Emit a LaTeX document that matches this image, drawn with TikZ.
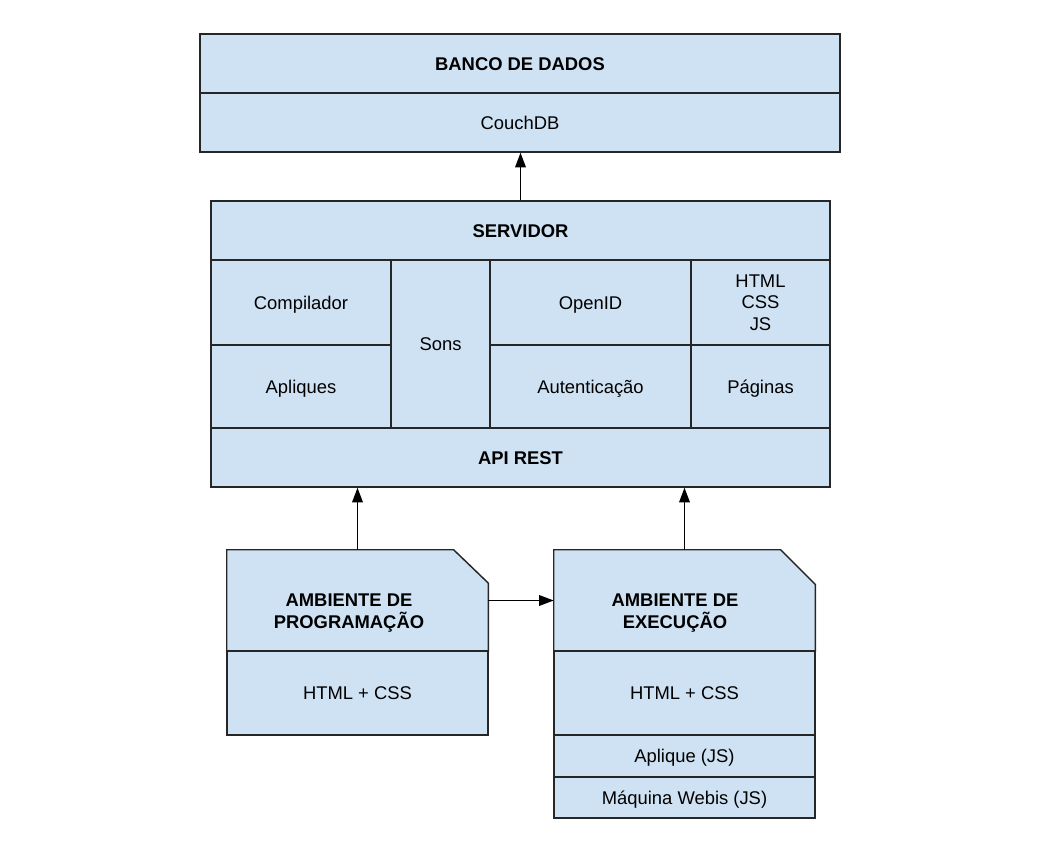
\documentclass[tikz,border=0pt]{standalone}
\usepackage{fontspec}
\setmainfont{Liberation Sans}
\usetikzlibrary{arrows.meta}
\definecolor{boxblue}{HTML}{CFE2F3}

\begin{document}
\begin{tikzpicture}[x=0.75pt,y=-0.75pt,
      box/.style={rectangle,draw=black!85,fill=boxblue,line width=1.1pt,
        inner sep=0pt,align=center},
      cell/.style={box,text height=10pt,text depth=-1.5pt},
      seta/.style={-{Triangle[length=11pt,width=8pt]},line width=1.1pt}]
      \tikzstyle{every node}=[font=\fontsize{13.8}{16}\selectfont]
      \useasboundingbox (0,0) rectangle (1042,855);
      % banco de dados
      \node[cell,minimum width=480pt,minimum height=44.25pt] (banco)
      at (520,63.5) {\textbf{BANCO DE DADOS}};
      \node[cell,minimum width=480pt,minimum height=44.25pt] (couch)
      at (520,122.5) {CouchDB};
      % servidor
      \node[cell,minimum width=464.25pt,minimum height=44.25pt] (serv)
      at (520.5,230.5) {\textbf{SERVIDOR}};
      \node[cell,minimum width=135pt,minimum height=63.75pt] (comp)
      at (301,302.5) {Compilador};
      \node[cell,minimum width=135pt,minimum height=62.25pt] (apl)
      at (301,386.5) {Apliques};
      \node[cell,minimum width=74.25pt,minimum height=126pt] (sons)
      at (440.5,344) {Sons};
      \node[cell,minimum width=150.75pt,minimum height=63.75pt] (openid)
      at (590.5,302.5) {OpenID};
      \node[cell,minimum width=150.75pt,minimum height=62.25pt] (aut)
      at (590.5,386.5) {Autenticação};
      \node[box,text depth=0pt,minimum width=104.25pt,minimum height=63.75pt]
      (web) at (760.5,302.5) {HTML\\CSS\\JS};
      \node[cell,minimum width=104.25pt,minimum height=62.25pt] (pag)
      at (760.5,386.5) {Páginas};
      \node[cell,minimum width=464.25pt,minimum height=44.25pt] (api)
      at (520.5,457.5) {\textbf{API REST}};
      % ambiente de programacao
      \node[minimum width=195.75pt,minimum height=75.75pt,inner sep=0pt]
      (ptop) at (357.5,600.5) {};
      \draw[draw=black!85,fill=boxblue,line width=1.1pt] (ptop.south west)
      -- (ptop.north west) -- ([xshift=-26pt]ptop.north east)
      -- ([yshift=-25pt]ptop.north east) -- (ptop.south east) -- cycle;
      \node[align=center] (ptxt) at (349,613)
      {\textbf{AMBIENTE DE}\\\textbf{PROGRAMAÇÃO}};
      \node[cell,minimum width=195.75pt,minimum height=63pt] (pcss)
      at (357.5,693) {HTML + CSS};
      % ambiente de execucao
      \node[minimum width=195.75pt,minimum height=75.75pt,inner sep=0pt]
      (etop) at (684.5,600.5) {};
      \draw[draw=black!85,fill=boxblue,line width=1.1pt] (etop.south west)
      -- (etop.north west) -- ([xshift=-26pt]etop.north east)
      -- ([yshift=-26pt]etop.north east) -- (etop.south east) -- cycle;
      \node[align=center] (etxt) at (675,613)
      {\textbf{AMBIENTE DE}\\\textbf{EXECUÇÃO}};
      \node[cell,minimum width=195.75pt,minimum height=63pt] (ecss)
      at (684.5,693) {HTML + CSS};
      \node[cell,minimum width=195.75pt,minimum height=31.5pt] (eapl)
      at (684.5,756) {Aplique (JS)};
      \node[cell,minimum width=195.75pt,minimum height=30.75pt] (emaq)
      at (684.5,797.5) {Máquina Webis (JS)};
      % setas
      \draw[seta] (serv.north) -- (serv.north |- couch.south);
      \draw[seta] (ptop.north) -- (ptop.north |- api.south);
      \draw[seta] (etop.north) -- (etop.north |- api.south);
      \draw[seta] (ptop.east) -- (etop.west);
    \end{tikzpicture}
\end{document}
